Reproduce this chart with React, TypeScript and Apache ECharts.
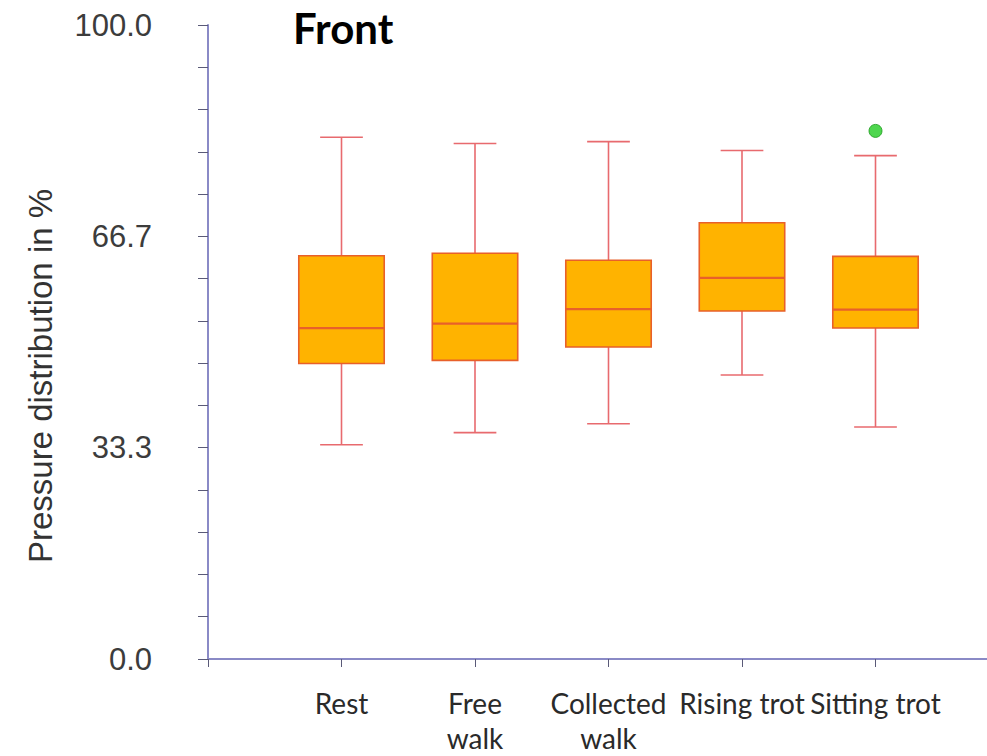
import React, { useEffect, useRef } from "react";
import * as echarts from "echarts";

const CATEGORIES = ["Rest", "Free\nwalk", "Collected\nwalk", "Rising trot", "Sitting trot"];
const MIN_VALUES = [33.8, 35.7, 37.1, 44.8, 36.6];
const Q1_VALUES = [46.6, 47.1, 49.2, 54.9, 52.2];
const MEDIAN_VALUES = [52.2, 52.9, 55.2, 60.1, 55.1];
const Q3_VALUES = [63.6, 64.0, 62.9, 68.8, 63.5];
const MAX_VALUES = [82.3, 81.3, 81.6, 80.2, 79.4];
const OUTLIER_CATEGORIES = ["Sitting trot"];
const OUTLIER_VALUES = [83.3];
const Y_MIN = 0;
const Y_MAX = 100;
const Y_INTERVAL = 100 / 3;

const AXIS_COLOR = "#8a8ac6";
const TICK_COLOR = "#5a5a78";
const BOX_FILL = "#FFB300";
const BOX_BORDER = "#E8602A";
const WHISKER_COLOR = "#E86A6E";

export default function App() {
  const ref = useRef<HTMLDivElement>(null);

  useEffect(() => {
    if (!ref.current) return;
    const chart = echarts.init(ref.current, undefined, { renderer: "svg" });

    const boxData = CATEGORIES.map((_, i) => [
      i + 1,
      MIN_VALUES[i],
      Q1_VALUES[i],
      MEDIAN_VALUES[i],
      Q3_VALUES[i],
      MAX_VALUES[i],
    ]);
    const outlierData = OUTLIER_CATEGORIES.map((c, i) => [
      CATEGORIES.findIndex((n) => n === c) + 1,
      OUTLIER_VALUES[i],
    ]);

    chart.setOption({
      animation: false,
      backgroundColor: "#ffffff",
      grid: {
        left: 208,
        top: 25,
        width: 801,
        height: 634,
        containLabel: false,
        outerBoundsMode: "none",
      },
      xAxis: {
        type: "value",
        min: 0,
        max: 6,
        interval: 1,
        splitLine: { show: false },
        axisLine: { show: true, lineStyle: { color: AXIS_COLOR, width: 2 } },
        axisTick: { show: true, length: 8, lineStyle: { color: TICK_COLOR, width: 1 } },
        axisLabel: {
          margin: 26,
          fontFamily: "Lato",
          fontSize: 28,
          lineHeight: 35,
          color: "#2a2a2a",
          formatter: (v: number) => {
            const idx = Math.round(v) - 1;
            return idx >= 0 && idx < CATEGORIES.length ? CATEGORIES[idx] : "";
          },
        },
      },
      yAxis: {
        type: "value",
        min: Y_MIN,
        max: Y_MAX,
        interval: Y_INTERVAL,
        splitLine: { show: false },
        axisLine: { show: true, lineStyle: { color: AXIS_COLOR, width: 2 } },
        axisTick: { show: true, length: 10, lineStyle: { color: TICK_COLOR, width: 1 } },
        minorTick: { show: true, splitNumber: 5, length: 10, lineStyle: { color: TICK_COLOR, width: 1 } },
        axisLabel: {
          margin: 56,
          fontFamily: "Liberation Sans",
          fontSize: 31,
          color: "#3c3c3c",
          formatter: (v: number) => v.toFixed(1),
        },
      },
      graphic: [
        {
          type: "text",
          x: 293,
          y: 28,
          style: {
            text: "Front",
            fontFamily: "Lato",
            fontWeight: "bold",
            fontSize: 42,
            fill: "#000000",
            textAlign: "left",
            textVerticalAlign: "middle",
          },
        },
        {
          type: "text",
          x: 40,
          y: 376,
          rotation: Math.PI / 2,
          style: {
            text: "Pressure distribution in %",
            fontFamily: "Liberation Sans",
            fontSize: 33,
            fill: "#333333",
            textAlign: "center",
            textVerticalAlign: "middle",
          },
        },
      ],
      series: [
        {
          type: "custom",
          data: boxData,
          encode: { x: 0, y: [1, 2, 3, 4, 5] },
          clip: false,
          renderItem: (params: any, api: any) => {
            const x = api.value(0);
            const pMin = api.coord([x, api.value(1)]);
            const pQ1 = api.coord([x, api.value(2)]);
            const pMed = api.coord([x, api.value(3)]);
            const pQ3 = api.coord([x, api.value(4)]);
            const pMax = api.coord([x, api.value(5)]);
            const band = api.size([1, 0])[0];
            const hb = band * 0.32;
            const hc = band * 0.16;
            const cx = pMed[0];
            const ws = { stroke: WHISKER_COLOR, lineWidth: 1.6 };
            return {
              type: "group",
              children: [
                { type: "line", shape: { x1: cx, y1: pMax[1], x2: cx, y2: pQ3[1] }, style: ws },
                { type: "line", shape: { x1: cx, y1: pQ1[1], x2: cx, y2: pMin[1] }, style: ws },
                { type: "line", shape: { x1: cx - hc, y1: pMax[1], x2: cx + hc, y2: pMax[1] }, style: ws },
                { type: "line", shape: { x1: cx - hc, y1: pMin[1], x2: cx + hc, y2: pMin[1] }, style: ws },
                {
                  type: "rect",
                  shape: { x: cx - hb, y: pQ3[1], width: hb * 2, height: pQ1[1] - pQ3[1] },
                  style: { fill: BOX_FILL, stroke: BOX_BORDER, lineWidth: 1.6 },
                },
                {
                  type: "line",
                  shape: { x1: cx - hb, y1: pMed[1], x2: cx + hb, y2: pMed[1] },
                  style: { stroke: BOX_BORDER, lineWidth: 2.2 },
                },
              ],
            };
          },
        },
        {
          type: "scatter",
          data: outlierData,
          symbol: "circle",
          symbolSize: 13,
          itemStyle: { color: "#22cc22", borderColor: "#1a9a1a", borderWidth: 1 },
        },
      ],
    });

    return () => chart.dispose();
  }, []);

  return (
    <div
      ref={ref}
      style={{ position: "fixed", left: 0, top: 0, width: 987, height: 756 }}
    />
  );
}
